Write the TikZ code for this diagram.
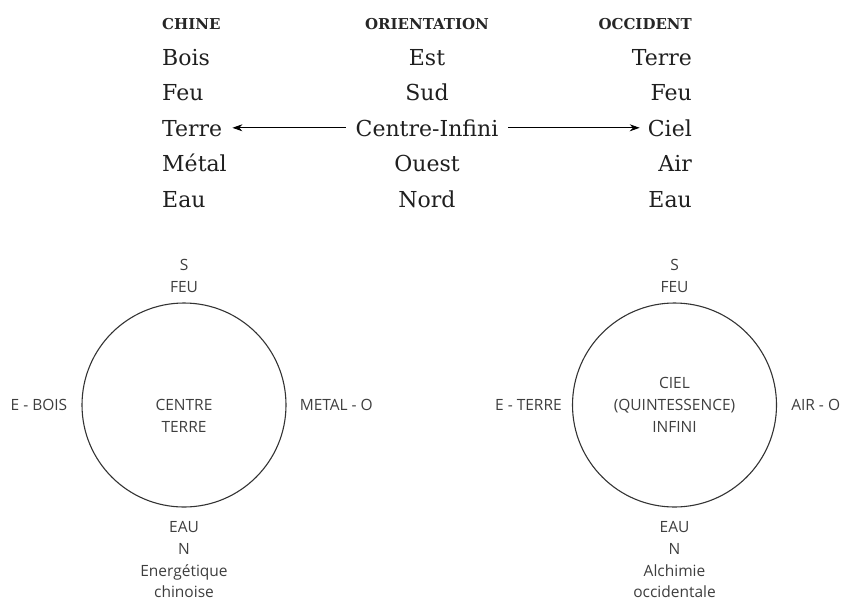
\documentclass[tikz,border=0pt]{standalone}
\usepackage{fontspec}
\setmainfont{DejaVu Serif}
\newfontfamily\etiquette{Open Sans}
\usetikzlibrary{arrows.meta,positioning}
\definecolor{inkgray}{RGB}{62,62,62}
\tikzset{
  entete/.style={font=\fontsize{15}{17}\selectfont\bfseries,text=black!85,inner sep=0pt},
  cellule/.style={font=\fontsize{22}{26}\selectfont,text=black!88,inner sep=0pt},
  flow/.style={-{Stealth[length=10pt,width=7pt]},line width=0.8pt},
  ronde/.style={circle,draw=black!80,line width=1.1pt,minimum size=204pt,inner sep=0pt},
  lab/.style={font=\etiquette\fontsize{15.5}{21.7}\selectfont,text=inkgray,align=center,inner sep=0pt},
}

\begin{document}
\begin{tikzpicture}[x=1pt,y=-1pt]
  \path[use as bounding box] (0,0) rectangle (842,600);

  % tableau des correspondances
  \node[entete,anchor=base west] (hch) at (162,29) {CHINE};
  \node[entete,anchor=base] (hor) at (427,29) {ORIENTATION};
  \node[entete,anchor=base east] (hoc) at (692,29) {OCCIDENT};
  \foreach \a/\b/\c [count=\i] in {Bois/Est/Terre,Feu/Sud/Feu,Terre/Centre-Infini/Ciel,
                                   Métal/Ouest/Air,Eau/Nord/Eau}{
    \node[cellule,anchor=base west] (ch\i) at (162,{65+35.5*(\i-1)}) {\a};
    \node[cellule,anchor=base] (or\i) at (427,{65+35.5*(\i-1)}) {\b};
    \node[cellule,anchor=base east] (oc\i) at (692,{65+35.5*(\i-1)}) {\c};
  }
  \draw[flow,shorten <=10pt,shorten >=10pt] (or3.west) -- (or3.west -| ch3.east);
  \draw[flow,shorten <=10pt,shorten >=8pt] (or3.east) -- (or3.east -| oc3.west);

  % energetique chinoise
  \node[ronde] (rondeL) at (184,405) {};
  \node[lab] (coeurL) at (184,416) {CENTRE\\TERRE};
  \node[lab,above=10pt of rondeL] (sudL) {S\\FEU};
  \node[lab,below=14pt of rondeL] (nordL) {EAU\\N\\Energétique\\chinoise};
  \node[lab,left=14pt of rondeL] (estL) {E - BOIS};
  \node[lab,right=13pt of rondeL] (ouestL) {METAL - O};

  % alchimie occidentale
  \node[ronde] (rondeR) at (674.5,405) {};
  \node[lab] (coeurR) at (674.5,405) {CIEL\\(QUINTESSENCE)\\INFINI};
  \node[lab,above=10pt of rondeR] (sudR) {S\\FEU};
  \node[lab,below=14pt of rondeR] (nordR) {EAU\\N\\Alchimie\\occidentale};
  \node[lab,left=10pt of rondeR] (estR) {E - TERRE};
  \node[lab,right=14pt of rondeR] (ouestR) {AIR - O};
\end{tikzpicture}
\end{document}
